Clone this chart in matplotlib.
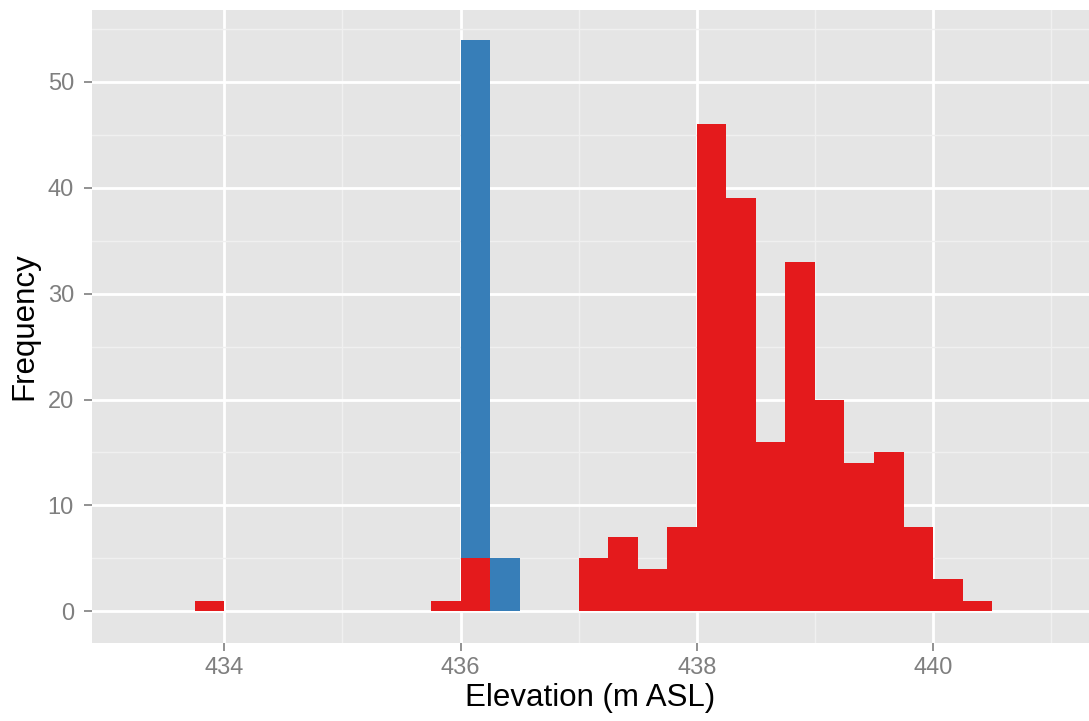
import matplotlib
matplotlib.use("Agg")
import matplotlib.pyplot as plt
import numpy as np

# Bin left edges (binwidth 0.25 m)
bin_width = 0.25
red_edges = [433.75, 435.75, 436.0, 437.0, 437.25, 437.5, 437.75, 438.0, 438.25,
             438.5, 438.75, 439.0, 439.25, 439.5, 439.75, 440.0, 440.25]
red_counts = [1, 1, 5, 5, 7, 4, 8, 46, 39, 16, 33, 20, 14, 15, 8, 3, 1]
blue_edges = [436.0, 436.25]
blue_counts = [49, 5]

x_ticks = [434, 436, 438, 440]
y_ticks = [0, 10, 20, 30, 40, 50]

red_color = "#E41A1C"
blue_color = "#377EB8"

plt.rcParams['font.family'] = ['Liberation Sans', 'DejaVu Sans']

fig = plt.figure(figsize=(10.89, 7.21), dpi=100)
ax = fig.add_axes([92/1089, 1 - 643/721, 1 - 92/1089, (643 - 10)/721])
ax.set_facecolor("#E5E5E5")

ax.bar(red_edges, red_counts, width=bin_width, align='edge', color=red_color,
       linewidth=0, zorder=3)
# blue stacked on top of red where they share a bin
red_map = dict(zip(red_edges, red_counts))
blue_bottom = [red_map.get(e, 0) for e in blue_edges]
ax.bar(blue_edges, blue_counts, width=bin_width, bottom=blue_bottom, align='edge',
       color=blue_color, linewidth=0, zorder=3)

ax.set_xlim(432.88, 441.32)
ax.set_ylim(-3.0, 56.8)

ax.set_xticks(x_ticks)
ax.set_yticks(y_ticks)
ax.set_xticks([435, 437, 439, 441], minor=True)
ax.set_yticks([5, 15, 25, 35, 45, 55], minor=True)

ax.grid(which='major', color='white', linewidth=2.0, zorder=1)
ax.grid(which='minor', color='#F0F0F0', linewidth=1.0, zorder=1)
ax.set_axisbelow(True)

for s in ax.spines.values():
    s.set_visible(False)

ax.tick_params(axis='both', which='major', length=6, width=1.2, color='#7F7F7F',
               labelcolor='#7F7F7F', labelsize=17)
ax.tick_params(axis='x', which='major', pad=4)
ax.tick_params(axis='y', which='major', pad=7)
ax.tick_params(axis='both', which='minor', length=0)

ax.set_xlabel("Elevation (m ASL)", fontsize=22.5, color='black', labelpad=3)
ax.set_ylabel("Frequency", fontsize=22.5, color='black', labelpad=6)

fig.savefig("out.png", dpi=100, facecolor='white')
